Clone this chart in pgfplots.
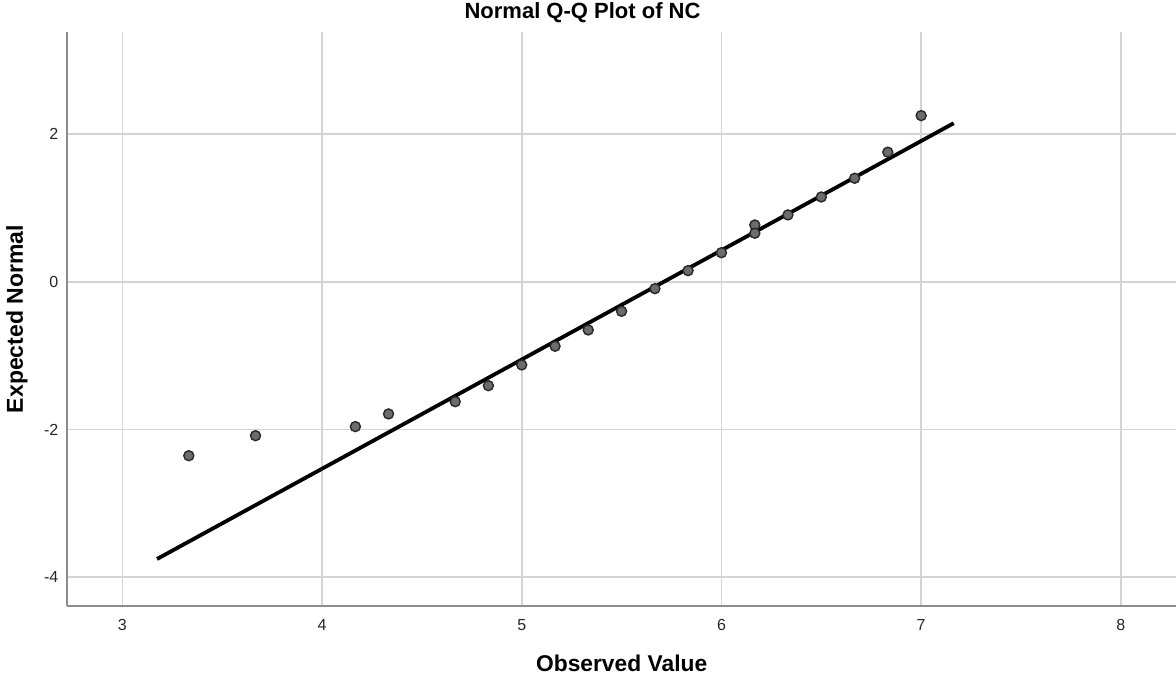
\documentclass[border=0pt]{standalone}
\usepackage{pgfplots}
\pgfplotsset{compat=1.18}
\usepackage{fontspec}
\setmainfont{Liberation Sans}
\definecolor{gridc}{RGB}{212,212,212}
\definecolor{axc}{RGB}{140,140,140}
\definecolor{ptfill}{RGB}{108,108,108}
\definecolor{ptdraw}{RGB}{40,40,40}
\begin{document}
\begin{tikzpicture}
\begin{axis}[
  scale only axis,
  width=554.35pt, height=286.85pt,
  xmin=2.7246, xmax=8.276,
  ymin=-4.393, ymax=3.382,
  xtick={3,4,5,6,7,8},
  ytick={-4,-2,0,2},
  major tick length=0pt,
  axis x line*=bottom,
  axis y line*=left,
  axis line style={-, draw=axc, line width=0.9pt},
  grid=major,
  major grid style={draw=gridc, line width=0.8pt},
  tick label style={font=\fontsize{8}{9.6}\selectfont, text=black!85},
  /pgf/number format/assume math mode=true,
  xticklabel style={yshift=-3.3pt},
  yticklabel style={xshift=-1pt},
  clip=false,
]
\addplot[only marks, mark=*, mark size=2.5pt,
  mark options={fill=ptfill, draw=ptdraw, line width=0.7pt}]
coordinates {
(3.333,-2.356) (3.667,-2.085) (4.167,-1.962) (4.333,-1.790)
(4.667,-1.624) (4.833,-1.407) (5.000,-1.126) (5.167,-0.873)
(5.333,-0.652) (5.500,-0.399) (5.667,-0.092) (5.833,0.152)
(6.000,0.395) (6.167,0.771) (6.167,0.659) (6.333,0.907)
(6.500,1.150) (6.667,1.404) (6.833,1.757) (7.000,2.253)
};
\addplot[black, line width=1.9pt] coordinates {(3.174,-3.756) (7.163,2.150)};
\coordinate (SW) at (rel axis cs:0,0);
\coordinate (NE) at (rel axis cs:1,1);
\node[anchor=base, font=\bfseries\fontsize{11.4}{13}\selectfont] at ([yshift=-32.9pt]rel axis cs:0.5,0) {Observed Value};
\node[anchor=base, rotate=90, font=\bfseries\fontsize{11.5}{13}\selectfont] at ([xshift=-22.2pt]rel axis cs:0,0.5) {Expected Normal};
\node[anchor=base, font=\bfseries\fontsize{11}{13}\selectfont] at ([yshift=6.8pt]rel axis cs:0.4647,1) {Normal Q-Q Plot of NC};
\end{axis}
\pgfresetboundingbox
\path ([xshift=-33.65pt,yshift=-35pt]SW) rectangle ([yshift=16.15pt]NE);
\end{tikzpicture}
\end{document}
